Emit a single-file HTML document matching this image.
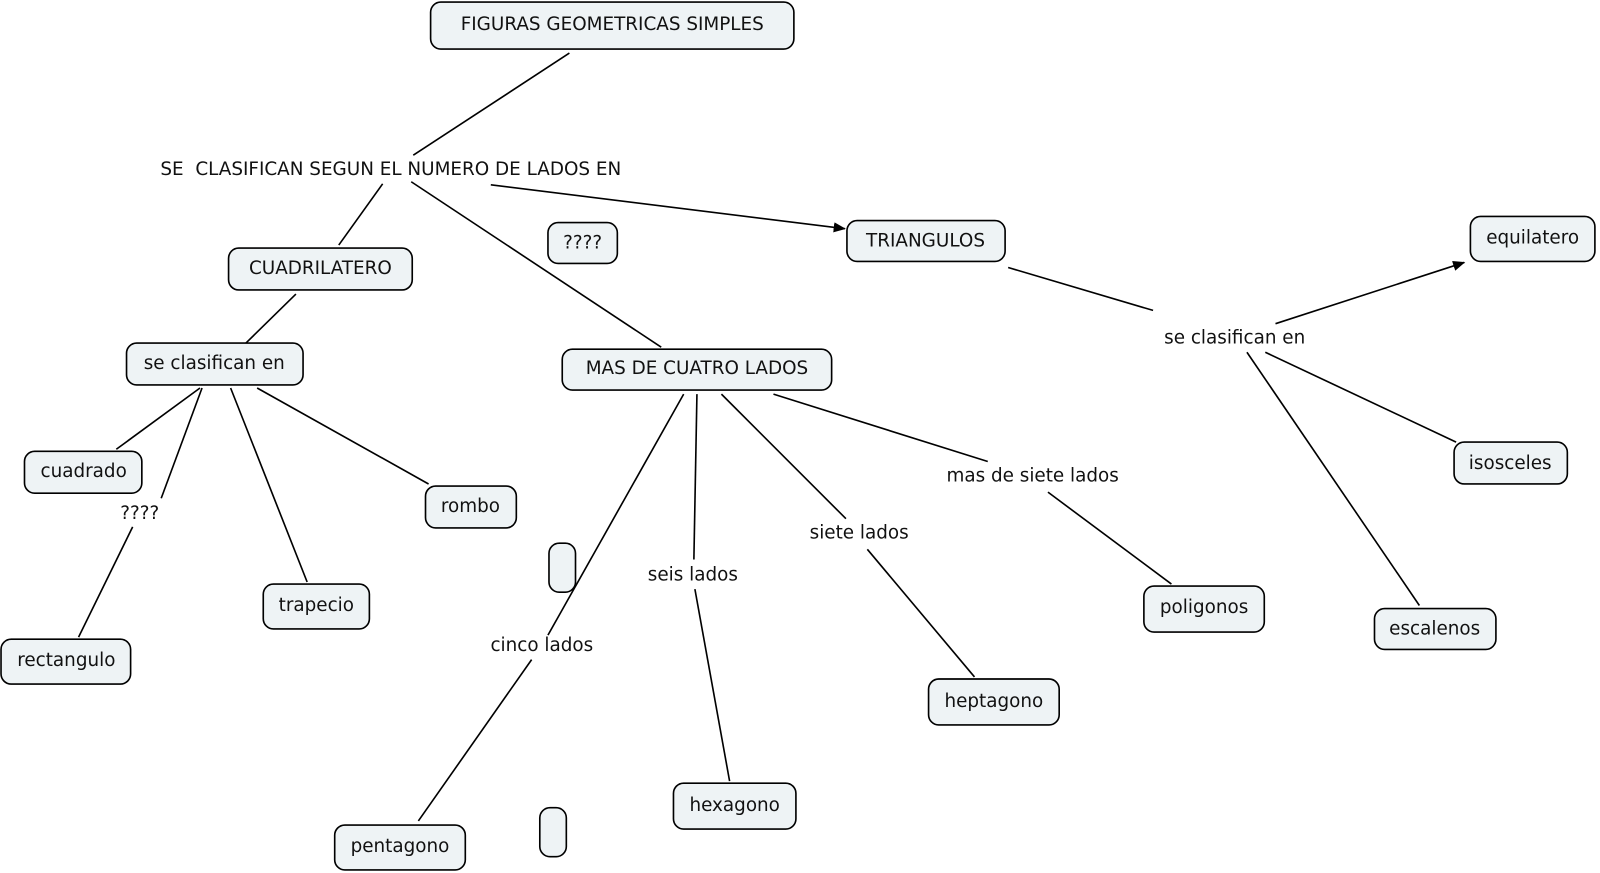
<!DOCTYPE html>
<html><head><meta charset="utf-8"><style>html,body{margin:0;padding:0;background:#fff}svg{display:block}</style></head>
<body>
<svg width="1600" height="873" viewBox="0 0 1568 855" preserveAspectRatio="none" xmlns="http://www.w3.org/2000/svg" font-family="DejaVu Sans, Verdana, sans-serif" font-size="18">
<defs><marker id="a" markerWidth="12" markerHeight="10" refX="11" refY="5" orient="auto" markerUnits="userSpaceOnUse" viewBox="0 0 12 10"><path d="M0,0 L12,5 L0,10 z" fill="#000"/></marker></defs>
<g stroke="#000" stroke-width="1.6" fill="none">
<line x1="558" y1="52" x2="405" y2="152"/>
<line x1="375" y1="180" x2="332" y2="240"/>
<line x1="403" y1="178" x2="648" y2="340"/>
<line x1="481" y1="181" x2="828" y2="224" marker-end="url(#a)"/>
<line x1="290" y1="288" x2="241" y2="336"/>
<line x1="196" y1="380" x2="114" y2="440"/>
<line x1="198" y1="380" x2="158" y2="488"/>
<line x1="130" y1="516" x2="77" y2="624"/>
<line x1="226" y1="380" x2="301" y2="570"/>
<line x1="252" y1="380" x2="420" y2="474"/>
<line x1="988" y1="262" x2="1130" y2="304"/>
<line x1="1250" y1="317" x2="1435" y2="257" marker-end="url(#a)"/>
<line x1="1240" y1="345" x2="1427" y2="433"/>
<line x1="1222" y1="345" x2="1391" y2="593"/>
<line x1="670" y1="386" x2="537" y2="622"/>
<line x1="521" y1="646" x2="410" y2="804"/>
<line x1="683" y1="386" x2="680" y2="548"/>
<line x1="681" y1="577" x2="715" y2="765"/>
<line x1="707" y1="386" x2="829" y2="508"/>
<line x1="850" y1="538" x2="955" y2="663"/>
<line x1="758" y1="386" x2="968" y2="452"/>
<line x1="1027" y1="482" x2="1148" y2="572"/>
</g>
<g fill="#eef3f5" stroke="#000" stroke-width="1.6">
<rect x="422" y="2" width="356" height="46" rx="10"/>
<rect x="830" y="216" width="155" height="40" rx="10"/>
<rect x="537" y="218" width="68" height="40" rx="10"/>
<rect x="224" y="243" width="180" height="41" rx="10"/>
<rect x="124" y="336" width="173" height="41" rx="10"/>
<rect x="551" y="342" width="264" height="40" rx="10"/>
<rect x="1441" y="212" width="122" height="44" rx="10"/>
<rect x="24" y="442" width="115" height="41" rx="10"/>
<rect x="417" y="476" width="89" height="41" rx="10"/>
<rect x="1425" y="433" width="111" height="41" rx="10"/>
<rect x="258" y="572" width="104" height="44" rx="10"/>
<rect x="1" y="626" width="127" height="44" rx="10"/>
<rect x="538" y="532" width="26" height="48" rx="10"/>
<rect x="1121" y="574" width="118" height="45" rx="10"/>
<rect x="1347" y="596" width="119" height="40" rx="10"/>
<rect x="910" y="665" width="128" height="45" rx="10"/>
<rect x="660" y="767" width="120" height="45" rx="10"/>
<rect x="328" y="808" width="128" height="44" rx="10"/>
<rect x="529" y="791" width="26" height="48" rx="10"/>
</g>
<g fill="#111" text-anchor="middle" dominant-baseline="central">
<text x="600" y="24">FIGURAS GEOMETRICAS SIMPLES</text>
<text x="907" y="236">TRIANGULOS</text>
<text x="571" y="238">????</text>
<text x="314" y="263">CUADRILATERO</text>
<text x="210" y="356">se clasifican en</text>
<text x="683" y="361">MAS DE CUATRO LADOS</text>
<text x="1502" y="233">equilatero</text>
<text x="82" y="462">cuadrado</text>
<text x="461" y="496">rombo</text>
<text x="1480" y="454">isosceles</text>
<text x="310" y="593">trapecio</text>
<text x="65" y="647">rectangulo</text>
<text x="1180" y="595">poligonos</text>
<text x="1406" y="616">escalenos</text>
<text x="974" y="687">heptagono</text>
<text x="720" y="789">hexagono</text>
<text x="392" y="829">pentagono</text>
<text x="383" y="166" xml:space="preserve">SE  CLASIFICAN SEGUN EL NUMERO DE LADOS EN</text>
<text x="1210" y="331">se clasifican en</text>
<text x="137" y="503">????</text>
<text x="531" y="632">cinco lados</text>
<text x="679" y="563">seis lados</text>
<text x="842" y="522">siete lados</text>
<text x="1012" y="466">mas de siete lados</text>
</g>
</svg>
</body></html>
